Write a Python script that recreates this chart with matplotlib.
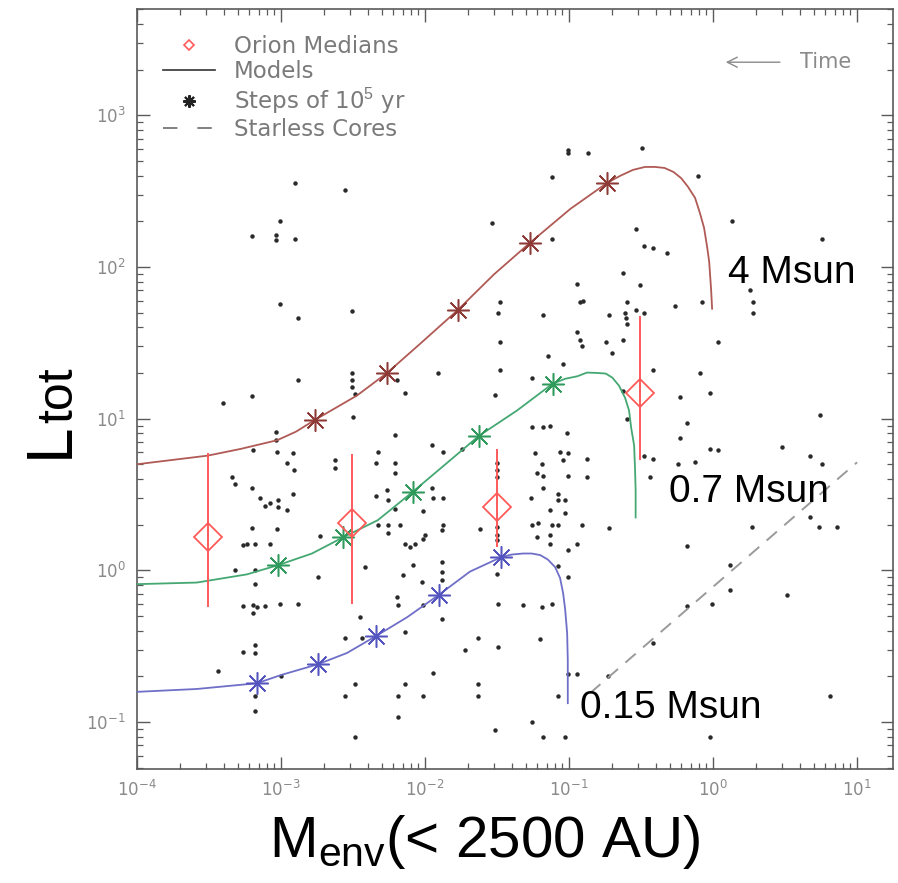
import numpy as np
import matplotlib.pyplot as plt
from matplotlib.lines import Line2D

plt.rcParams['mathtext.fontset'] = 'custom'
plt.rcParams['mathtext.rm'] = 'Liberation Sans'
plt.rcParams['mathtext.it'] = 'Liberation Sans:italic'

# model tracks (envelope mass vs total luminosity)
menv_4 = [1.0e-4, 3.1e-4, 5.2e-4, 9.4e-4, 1.27e-3, 1.72e-3, 3.37e-3, 5.45e-3, 9.2e-3, 1.69e-2,
          3.0e-2, 5.35e-2, 0.102, 0.14, 0.184, 0.226, 0.278, 0.337, 0.395, 0.46,
          0.53, 0.6, 0.67, 0.75, 0.81, 0.866, 0.91, 0.94, 0.955, 0.97, 0.985]
ltot_4 = [5.0, 5.7, 6.3, 7.2, 8.2, 9.8, 14.2, 20, 31, 52,
          89, 144, 241, 298, 358, 398, 436, 456, 456, 449,
          423, 385, 337, 285, 227, 181, 135, 108, 87, 70, 53]

menv_07 = [1.0e-4, 2.6e-4, 5.8e-4, 9.5e-4, 1.64e-3, 2.7e-3, 4.7e-3, 8.25e-3, 1.42e-2, 2.37e-2,
           4.35e-2, 7.7e-2, 9.4e-2, 0.114, 0.133, 0.156, 0.18, 0.20, 0.222, 0.245,
           0.261, 0.27, 0.283, 0.287, 0.29, 0.29]
ltot_07 = [0.81, 0.83, 0.94, 1.08, 1.29, 1.65, 2.14, 3.3, 5.1, 7.7,
           11.3, 17, 18.3, 19, 20.1, 20, 19.8, 18.6, 16.5, 13.7,
           11.3, 8.7, 6.66, 4.75, 3.37, 2.23]

menv_015 = [1.0e-4, 2.6e-4, 6.8e-4, 1.0e-3, 1.8e-3, 2.87e-3, 4.6e-3, 7.5e-3, 1.25e-2, 2.05e-2,
            3.37e-2, 4.0e-2, 4.8e-2, 5.5e-2, 6.3e-2, 7.1e-2, 8.0e-2, 8.66e-2, 9.1e-2, 9.4e-2,
            9.7e-2, 9.8e-2, 9.8e-2]
ltot_015 = [0.158, 0.165, 0.18, 0.204, 0.24, 0.285, 0.37, 0.49, 0.69, 0.98,
            1.22, 1.27, 1.29, 1.29, 1.26, 1.18, 1.05, 0.89, 0.705, 0.55,
            0.385, 0.256, 0.133]

# steps of 1e5 yr along each track
steps_m_4 = [1.72e-3, 5.45e-3, 1.69e-2, 5.35e-2, 0.184]
steps_l_4 = [9.8, 20, 52, 144, 358]
steps_m_07 = [9.5e-4, 2.7e-3, 8.25e-3, 2.37e-2, 7.7e-2]
steps_l_07 = [1.08, 1.65, 3.3, 7.7, 17]
steps_m_015 = [6.8e-4, 1.8e-3, 4.6e-3, 1.25e-2, 3.37e-2]
steps_l_015 = [0.18, 0.24, 0.37, 0.69, 1.22]

# Orion medians with ranges
med_m = [3.1e-4, 3.1e-3, 3.16e-2, 0.31]
med_l = [1.65, 2.04, 2.6, 14.8]
med_lo = [0.57, 0.60, 1.42, 5.3]
med_hi = [5.9, 5.8, 6.3, 47.8]

# starless cores relation
starless_m = [0.14, 10]
starless_l = [0.155, 5.15]

# observed protostars
menv_obs = [
    1.25e-3, 2.78e-3, 9.8e-4, 6.3e-4, 9.2e-4, 9.2e-4, 1.25e-3, 2.9e-2, 7.6e-2, 9.8e-2,
    9.8e-2, 0.136, 7.6e-2, 0.114, 0.119, 0.125, 3.3e-2, 9.8e-4, 3.1e-3,
    0.32, 0.79, 1.36, 5.7, 0.29, 0.33, 0.38, 0.48, 0.237, 0.31,
    0.253, 0.245, 0.25, 0.253, 0.29, 0.33, 0.19, 0.54, 0.84, 1.8,
    1.9, 1.9, 1.08, 0.18, 0.237,
    1.31e-3, 3.2e-2, 3.3e-2, 3.3e-2, 1.23e-2, 1.31e-3, 3.1e-3, 3.1e-3, 3.1e-3, 3.26e-3,
    6.4e-3, 7.3e-3, 3.06e-2, 3.95e-4, 6.3e-4, 3.16e-3, 9.2e-4, 9.2e-4, 6.2e-3, 6.4e-4,
    9.4e-4, 1.21e-3, 1.1e-3, 1.23e-3, 4.6e-4, 4.8e-4, 6.3e-4, 7.1e-4, 7.7e-4, 8.4e-4,
    9.5e-4, 9.5e-4, 1.1e-3, 1.21e-3, 2.37e-3, 2.37e-3, 4.7e-3, 4.6e-3, 6.2e-3, 6.2e-3,
    1.12e-2, 1.33e-2, 1.8e-2, 4.6e-3, 5.45e-3, 5.5e-3, 6.2e-3, 1.12e-2, 1.14e-2, 1.33e-2,
    9.7e-3, 6.3e-4, 9.4e-4, 1.87e-3, 5.4e-4, 5.8e-4, 6.6e-4, 8.4e-4, 4.7e-3, 5.5e-3,
    5.5e-3, 6.7e-3, 1.33e-2, 1.31e-2, 1.0e-2, 9.7e-3, 7.3e-3, 7.9e-3, 8.5e-3, 2.41e-2,
    4.8e-4, 6.6e-4, 1.8e-3, 3.8e-3, 8.2e-3, 1.31e-2, 1.31e-2, 1.31e-2, 7.0e-3, 9.5e-3,
    6.6e-4, 6.4e-3, 6.5e-3, 5.4e-4, 6.4e-4, 6.8e-4, 7.7e-4, 9.8e-4, 1.31e-3, 6.4e-4,
    3.54e-3, 9.7e-3, 1.31e-2, 3.2e-2, 4.8e-2, 7.3e-3, 2.78e-3, 3.65e-3, 6.6e-4, 6.6e-4,
    5.4e-4, 2.33e-2, 1.9e-2, 3.2e-2, 3.65e-4, 1.0e-3, 1.14e-2, 3.26e-3, 7.3e-3, 2.33e-2,
    2.33e-2, 6.6e-4, 6.6e-4, 2.78e-3, 6.5e-3, 9.7e-3, 6.5e-3, 3.26e-3, 3.06e-2, 3.16e-2,
    3.16e-2, 3.16e-2, 3.16e-2, 3.16e-2, 3.16e-2, 3.16e-2,
    6.6e-2, 0.114, 0.119, 0.123, 0.2, 7.1e-2, 9.1e-2, 0.38, 0.81, 5.5e-2,
    0.59, 0.95, 0.237, 0.253, 5.5e-2, 6.6e-2, 7.4e-2, 9.7e-2, 0.66, 5.5,
    0.59, 0.95, 1.08, 3.0, 4.7, 5.7, 5.8e-2, 8.7e-2, 9.8e-2, 9.1e-2,
    0.133, 0.33, 0.38, 0.57, 0.75, 6.5e-2, 6.0e-2, 6.6e-2, 9.8e-2, 0.133,
    0.365, 6.6e-2, 8.4e-2, 8.4e-2, 9.4e-2, 5.4e-2, 7.4e-2, 9.4e-2, 5.5e-2, 6.1e-2,
    7.6e-2, 8.4e-2, 0.123, 0.19, 6.0e-2, 7.4e-2, 7.4e-2, 0.114, 9.8e-2, 0.66,
    1.87, 4.7, 5.4, 7.3, 1.31, 8.4e-2, 9.8e-2, 1.31, 3.26, 0.66,
    0.98, 6.5e-2, 7.6e-2, 0.38, 6.3e-2, 9.8e-2, 0.114, 0.187, 6.5, 8.4e-2,
    5.5e-2, 6.6e-2, 9.4e-2, 0.95,
]
ltot_obs = [
    360, 320, 200, 160, 162, 150, 153, 195, 390, 590,
    565, 565, 153, 77.5, 59, 60, 59, 57, 51,
    610, 400, 200, 153, 178, 138, 133, 124, 91, 76,
    59, 50, 46, 42, 52, 50, 48, 55, 59, 70,
    59, 50, 32, 32, 33,
    46, 50, 32, 21, 20, 18, 20, 18, 16.2, 14.6,
    18, 14.8, 14.2, 12.6, 14, 10.3, 8.1, 7.2, 7.75, 6.2,
    6.0, 5.9, 5.1, 4.6, 4.1, 3.7, 3.5, 3.0, 2.64, 2.76,
    2.9, 2.6, 2.5, 3.2, 5.3, 4.7, 6.0, 5.1, 5.1, 4.35,
    6.7, 6.0, 6.35, 3.07, 3.37, 2.9, 2.52, 3.5, 3.0, 3.0,
    2.45, 1.89, 1.86, 1.67, 1.46, 1.5, 1.5, 1.5, 1.98, 1.98,
    1.75, 1.98, 1.98, 1.83, 1.7, 1.6, 1.5, 1.42, 1.5, 1.86,
    1.0, 1.0, 0.9, 1.05, 1.08, 1.13, 0.98, 0.86, 0.93, 0.84,
    0.81, 0.67, 0.59, 0.58, 0.59, 0.57, 0.58, 0.6, 0.6, 0.52,
    0.49, 0.59, 0.48, 0.6, 0.59, 0.39, 0.36, 0.36, 0.32, 0.285,
    0.29, 0.36, 0.3, 0.31, 0.217, 0.2, 0.21, 0.178, 0.178, 0.178,
    0.148, 0.148, 0.118, 0.148, 0.148, 0.148, 0.108, 0.08, 0.089, 5.1,
    4.56, 4.1, 1.92, 1.7, 1.58, 0.95,
    48, 37, 33, 30, 27, 26, 23, 21, 20, 18.6,
    13.8, 14.8, 15.3, 10, 8.8, 8.8, 8.9, 8.0, 9.3, 10.5,
    7.4, 6.35, 6.2, 6.5, 5.65, 5.0, 5.9, 6.0, 5.9, 5.3,
    5.4, 5.7, 5.4, 5.0, 5.2, 5.0, 4.35, 4.2, 4.2, 4.1,
    4.1, 3.5, 3.2, 2.9, 2.9, 3.0, 2.5, 2.4, 1.98, 2.04,
    1.98, 1.98, 1.98, 1.89, 1.65, 1.7, 1.48, 1.5, 1.37, 1.44,
    1.92, 2.24, 1.92, 1.92, 1.08, 1.06, 0.9, 0.74, 0.69, 0.58,
    0.6, 0.57, 0.6, 0.33, 0.35, 0.207, 0.207, 0.2, 0.148, 0.148,
    0.1, 0.08, 0.08, 0.08,
]

c_red = '#b05a55'
c_green = '#45a873'
c_blue = '#6f6fc8'
c_orion = '#ff5a5a'

fig = plt.figure(figsize=(8.98, 8.83), dpi=100)
ax = fig.add_axes([0.1526, 0.1291, 0.8419, 0.8607])
ax.set_xscale('log')
ax.set_yscale('log')

ax.plot(menv_obs, ltot_obs, 'o', ms=3.2, mew=0, color='#2a2a2a', zorder=2)

ax.plot(starless_m, starless_l, color='#9a9a9a', lw=1.4, dashes=(7, 5), zorder=3)

ax.plot(menv_4, ltot_4, color=c_red, lw=1.3, zorder=3)
ax.plot(menv_07, ltot_07, color=c_green, lw=1.3, zorder=3)
ax.plot(menv_015, ltot_015, color=c_blue, lw=1.3, zorder=3)

star = (8, 2, 0)
ax.plot(steps_m_4, steps_l_4, ls='none', marker=star, ms=16, mew=1.1, color='#8e3a36', zorder=4)
ax.plot(steps_m_07, steps_l_07, ls='none', marker=star, ms=16, mew=1.1, color='#2f9a5c', zorder=4)
ax.plot(steps_m_015, steps_l_015, ls='none', marker=star, ms=16, mew=1.1, color='#5555c0', zorder=4)

med_l_arr = np.array(med_l)
yerr = [med_l_arr - np.array(med_lo), np.array(med_hi) - med_l_arr]
ax.errorbar(med_m, med_l, yerr=yerr, fmt='D', ms=14, mfc='none', mec=c_orion, mew=1.3,
            ecolor=c_orion, elinewidth=1.4, capsize=0, zorder=5)

ax.set_xlim(1e-4, 10 ** 1.25)
ax.set_ylim(10 ** -1.31, 10 ** 3.70)

for sp in ax.spines.values():
    sp.set_color('#5a5a5a')
    sp.set_linewidth(1.2)
ax.tick_params(which='both', direction='in', top=True, right=True, color='#5a5a5a',
               labelcolor='#8a8a8a', labelsize=12)
ax.tick_params(which='major', length=9, width=1.0, pad=8)
ax.tick_params(which='minor', length=4.5, width=0.9)

handles = [
    Line2D([], [], ls='none', marker='D', ms=5, mfc='none', mec=c_orion, mew=1.2),
    Line2D([], [], color='#333333', lw=1.2),
    Line2D([], [], ls='none', marker=star, ms=9, mew=1.5, color='#222222'),
    Line2D([], [], color='#777777', lw=1.3, dashes=(8, 11)),
]
labels = ['Orion Medians', 'Models', 'Steps of 10$^5$ yr', 'Starless Cores']
leg = ax.legend(handles, labels, loc='upper left', bbox_to_anchor=(0.034, 0.966),
                frameon=False, fontsize=16.5, labelcolor='#7a7a7a', handlelength=2.3,
                handletextpad=0.8, labelspacing=0.1, borderpad=0, borderaxespad=0)

ax.annotate('', xy=(0.775, 0.930), xytext=(0.854, 0.930), xycoords='axes fraction',
            arrowprops=dict(arrowstyle='->', color='#8a8a8a', lw=1.0, mutation_scale=18))
ax.text(0.877, 0.930, 'Time', transform=ax.transAxes, fontsize=15, color='#8a8a8a',
        va='center', ha='left')

ax.text(0.782, 0.6526, '4 Msun', transform=ax.transAxes, fontsize=28,
        family='Liberation Sans', va='center', ha='left')
ax.text(0.7037, 0.3645, '0.7 Msun', transform=ax.transAxes, fontsize=28,
        family='Liberation Sans', va='center', ha='left')
ax.text(0.586, 0.0803, '0.15 Msun', transform=ax.transAxes, fontsize=28,
        family='Liberation Sans', va='center', ha='left')

fig.text(0.540, 0.046, 'M$_{\\rm env}$(< 2500 AU)', fontsize=42, family='Liberation Sans',
         ha='center', va='center')

# y label built from two pieces so the subscript can be larger
fig.text(68 / 898, 1 - 458 / 883, 'L', fontsize=46, family='Liberation Sans',
         rotation=90, rotation_mode='anchor', ha='left', va='baseline')
fig.text(72 / 898, 1 - 423 / 883, 'tot', fontsize=36, family='Liberation Sans',
         rotation=90, rotation_mode='anchor', ha='left', va='baseline')

fig.savefig('out.png', dpi=100)
